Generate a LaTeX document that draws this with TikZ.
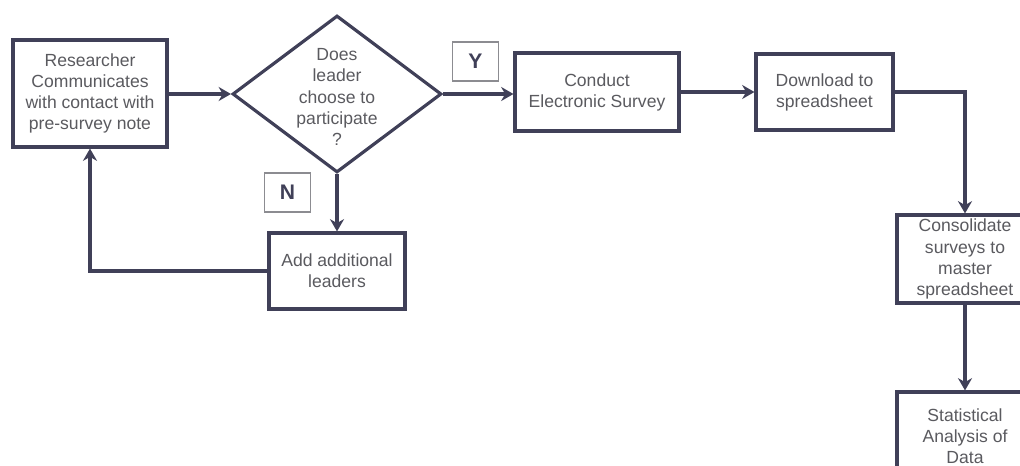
\documentclass[tikz,border=0pt]{standalone}
\usepackage{fontspec}
\setmainfont{Liberation Sans}
\usepackage{tikz}
\usetikzlibrary{shapes.geometric,arrows.meta}

\definecolor{edgecol}{RGB}{64,64,88}
\definecolor{txtcol}{RGB}{90,90,95}
\definecolor{tagcol}{RGB}{140,140,145}

\begin{document}
\begin{tikzpicture}[x=0.02cm, y=-0.02cm,
    block/.style={draw=edgecol, line width=1.8pt, fill=white, text=txtcol,
        align=center, inner sep=0pt},
    decision/.style={draw=edgecol, line width=1.8pt, diamond, inner sep=0pt,
        minimum width=4.18cm, minimum height=3.14cm},
    tag/.style={draw=tagcol, line width=0.6pt, fill=white, text=edgecol,
        font=\bfseries\large, minimum width=0.92cm, minimum height=0.78cm, inner sep=0pt},
    arr/.style={draw=edgecol, line width=2.1pt, -{Stealth[length=7pt,width=8pt]}}]
        \useasboundingbox (0, 0) rectangle (1020, 466);
        \clip (0, 0) rectangle (1020, 466);

        \node[block, minimum width=3.08cm, minimum height=2.14cm] (res) at (90, 93.5)
            {Researcher\\Communicates\\with contact with\\pre-survey note};
        \node[decision] (dec) at (337, 94) {};
        \node[text=txtcol, align=center] (dectxt) at (337, 97)
            {Does\\leader\\choose to\\participate\\?};
        \node[block, minimum width=2.72cm, minimum height=1.52cm] (add) at (337, 271)
            {Add additional\\leaders};
        \node[block, minimum width=3.28cm, minimum height=1.56cm] (cond) at (597, 92)
            {Conduct\\Electronic Survey};
        \node[block, minimum width=2.74cm, minimum height=1.52cm] (down) at (824.5, 92)
            {Download to\\spreadsheet};
        \node[block, minimum width=2.72cm, minimum height=1.76cm] (cons) at (965, 259)
            {Consolidate\\surveys to\\master\\spreadsheet};
        \node[block, minimum width=2.72cm, minimum height=1.76cm] (stat) at (965, 436)
            {Statistical\\Analysis of\\Data};

        \node[tag] (ytag) at (475.5, 61.5) {Y};
        \node[tag] (ntag) at (287.5, 192.5) {N};

        \draw[arr] (res.east |- dec.west) -- (dec.west);
        \draw[arr] (dec.east) -- (cond.west |- dec.east);
        \draw[arr] (dec.south) -- (add.north);
        \draw[arr] (add.west) -| (res.south);
        \draw[arr] (cond.east) -- (down.west);
        \draw[arr] (down.east) -| (cons.north);
        \draw[arr] (cons.south) -- (stat.north);
    \end{tikzpicture}
\end{document}
